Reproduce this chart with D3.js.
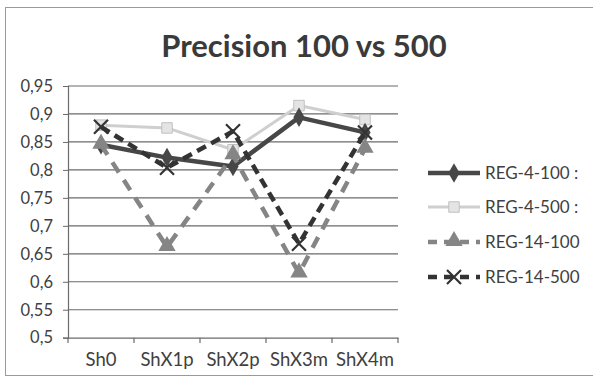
<!DOCTYPE html>
<html><head><meta charset="utf-8">
<script src="https://cdn.jsdelivr.net/npm/d3@7"></script>
<style>body{margin:0;background:#fff}svg{display:block}text{font-family:Lato,"Open Sans",sans-serif}</style>
</head><body>
<svg id="c" width="593" height="382"></svg>
<script>
const categories = ["Sh0","ShX1p","ShX2p","ShX3m","ShX4m"];
const seriesNames = ["REG-4-100  :","REG-4-500  :","REG-14-100","REG-14-500"];
const reg4_100  = [0.845,0.822,0.806,0.894,0.867];
const reg4_500  = [0.880,0.875,0.836,0.915,0.890];
const reg14_100 = [0.845,0.662,0.826,0.615,0.838];
const reg14_500 = [0.877,0.804,0.869,0.668,0.867];
const yTicks = [0.5,0.55,0.6,0.65,0.7,0.75,0.8,0.85,0.9,0.95];
const title = "Precision 100 vs 500";

const svg = d3.select("#c");
svg.append("rect").attr("x",5.5).attr("y",7.5).attr("width",600).attr("height",368)
  .attr("fill","none").attr("stroke","#9a9a9a");

svg.append("text").attr("x",304).attr("y",57).attr("text-anchor","middle")
  .attr("font-size",31).attr("font-weight","bold").attr("fill","#3a3a3a").text(title);

const x = d3.scaleBand().domain(categories).range([68,398]);
const y = d3.scaleLinear().domain([0.5,0.95]).range([337.7,86]);

svg.append("g").selectAll("line").data(yTicks.slice(1)).join("line")
  .attr("x1",68).attr("x2",398).attr("y1",d=>y(d)).attr("y2",d=>y(d))
  .attr("stroke","#6a6a6a").attr("stroke-width",1.2);

const fmt = d => String(+d.toFixed(2)).replace(".",",");
const ya = svg.append("g").attr("transform","translate(68,0)")
  .call(d3.axisLeft(y).tickValues(yTicks).tickFormat(fmt).tickSize(5).tickPadding(10));
ya.select(".domain").attr("stroke","#6a6a6a").attr("stroke-width",1.2);
ya.selectAll(".tick line").attr("stroke","#6a6a6a");
ya.selectAll("text").attr("font-size",16.5).attr("fill","#404040").attr("font-family","Lato,sans-serif");

const xa = svg.append("g").attr("transform","translate(0,337.7)")
  .call(d3.axisBottom(x).tickSize(0).tickPadding(15));
xa.select(".domain").attr("stroke","#6a6a6a").attr("stroke-width",1.2);
xa.selectAll("text").attr("font-size",18.5).attr("fill","#404040").attr("font-family","Lato,sans-serif");
const bounds = categories.map(c=>x(c)).concat([398]);
svg.append("g").selectAll("line").data(bounds).join("line")
  .attr("x1",d=>d).attr("x2",d=>d).attr("y1",337.7).attr("y2",343)
  .attr("stroke","#6a6a6a").attr("stroke-width",1.2);

const cx = c => x(c) + x.bandwidth()/2;
const styles = [
  {data:reg4_100, color:"#474747", dash:null, w:4.5, marker:"diamond"},
  {data:reg4_500, color:"#cfcfcf", dash:null, w:3, marker:"square"},
  {data:reg14_100, color:"#858585", dash:"12,9", w:4.5, marker:"triangle"},
  {data:reg14_500, color:"#333333", dash:"10,6", w:4.5, marker:"x"}
];
const line = d3.line().x((d,i)=>cx(categories[i])).y(d=>y(d));

function drawMarker(g, type, px, py, color){
  if(type==="diamond"){
    g.append("path").attr("d",d3.symbol(d3.symbolDiamond,110)()).attr("transform",`translate(${px},${py})`).attr("fill",color);
  } else if(type==="square"){
    g.append("path").attr("d",d3.symbol(d3.symbolSquare,110)()).attr("transform",`translate(${px},${py})`)
      .attr("fill","#e4e4e4").attr("stroke","#c0c0c0").attr("stroke-width",1);
  } else if(type==="triangle"){
    g.append("path").attr("d",d3.symbol(d3.symbolTriangle,130)()).attr("transform",`translate(${px},${py-1})`).attr("fill",color);
  } else {
    g.append("path").attr("d",`M${px-7},${py-7}L${px+7},${py+7}M${px-7},${py+7}L${px+7},${py-7}`)
      .attr("stroke",color).attr("stroke-width",2.2).attr("fill","none");
  }
}

const order = [1,0,2,3];
order.forEach(k=>{
  const s = styles[k];
  svg.append("path").datum(s.data).attr("d",line).attr("fill","none")
    .attr("stroke",s.color).attr("stroke-width",s.w)
    .attr("stroke-dasharray",s.dash).attr("stroke-linejoin","round");
  const g = svg.append("g");
  s.data.forEach((v,i)=>drawMarker(g,s.marker,cx(categories[i]),y(v),s.color));
});

const legY = [173,207,242,277];
seriesNames.forEach((n,i)=>{
  const s = styles[i];
  const g = svg.append("g");
  g.append("line").attr("x1",428).attr("x2",480).attr("y1",legY[i]).attr("y2",legY[i])
    .attr("stroke",s.color).attr("stroke-width",s.w).attr("stroke-dasharray",s.dash? "9,7":null);
  drawMarker(g,s.marker,454,legY[i],s.color);
  g.append("text").attr("x",485).attr("y",legY[i]+6).attr("font-size",17).attr("fill","#404040").text(n);
});
</script>
</body></html>
